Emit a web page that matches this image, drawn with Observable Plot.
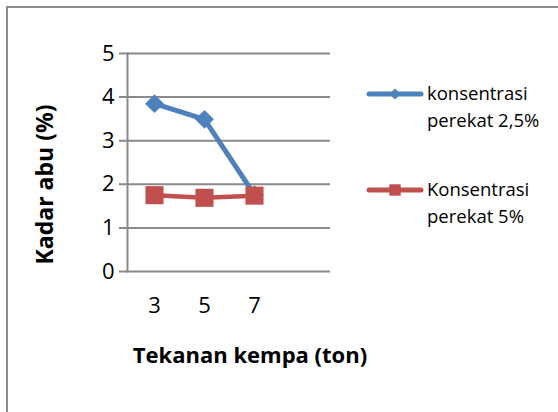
<!DOCTYPE html>
<html>
<head>
<meta charset="utf-8">
<script src="https://cdn.jsdelivr.net/npm/d3@7"></script>
<script src="https://cdn.jsdelivr.net/npm/@observablehq/plot@0.6"></script>
<style>
  html, body { margin: 0; padding: 0; background: #fff; }
  #wrap { position: relative; width: 558px; height: 412px; overflow: hidden; }
  #border { position: absolute; left: 6px; top: 6px; width: 700px; height: 600px; border: 2px solid #8e8e8e; box-sizing: border-box; }
  #chart { position: absolute; left: 0; top: 0; }
</style>
</head>
<body>
<div id="wrap"><div id="border"></div><div id="chart"></div></div>
<script>
const categories = ["3", "5", "7", ""];
const seriesNames = ["konsentrasi\nperekat 2,5%", "Konsentrasi\nperekat 5%"];
const series1 = [3.85, 3.49, 1.76];
const series2 = [1.75, 1.69, 1.74];
const yTicks = [0, 1, 2, 3, 4, 5];
const colors = ["#4F81BD", "#C0504D"];
const symbols = ["diamond2", "square"];
const xTitle = "Tekanan kempa (ton)";
const yTitle = "Kadar abu (%)";

const rows = (vals, s) => vals.map((v, i) => ({series: seriesNames[s], x: categories[i], y: v}));
const data1 = rows(series1, 0);
const data2 = rows(series2, 1);

const font = "'Open Sans', sans-serif";
const grid = "#8a8a8a";

const plot = Plot.plot({
  width: 558,
  height: 412,
  marginLeft: 127,
  marginRight: 228,
  marginTop: 53,
  marginBottom: 141,
  style: {fontFamily: font, color: "#000", background: "transparent", overflow: "visible"},
  x: {type: "band", domain: categories, padding: 0, label: null},
  y: {domain: [0, 5], label: null},
  marks: [
    Plot.ruleY(yTicks, {stroke: grid, strokeWidth: 2, insetLeft: -8}),
    Plot.frame({anchor: "left", stroke: grid, strokeWidth: 2}),
    Plot.axisY({ticks: yTicks, tickSize: 0, tickPadding: 13, fontSize: 22, tickFormat: d => String(d)}),
    Plot.axisX({tickSize: 0, tickPadding: 26, fontSize: 22, tickFormat: d => d}),
    Plot.line(data1, {x: "x", y: "y", stroke: colors[0], strokeWidth: 5}),
    Plot.dot(data1, {x: "x", y: "y", symbol: symbols[0], fill: colors[0], stroke: null, r: 8.5}),
    Plot.line(data2, {x: "x", y: "y", stroke: colors[1], strokeWidth: 4.5}),
    Plot.dot(data2, {x: "x", y: "y", symbol: symbols[1], fill: colors[1], stroke: null, r: 10.2}),
    Plot.text([xTitle], {frameAnchor: "bottom", dx: 21, dy: 84, fontSize: 22, fontWeight: "bold", lineAnchor: "middle"}),
    Plot.text([yTitle], {frameAnchor: "left", rotate: -90, textAnchor: "middle", dx: -82, dy: 22, fontSize: 23, fontWeight: "bold"})
  ]
});
document.getElementById("chart").appendChild(plot);

// Legend
const svg = d3.select(plot);
const leg = svg.append("g").attr("font-family", font).attr("font-size", 18.5).attr("text-anchor", "start");
const legY = [94, 190];
seriesNames.forEach((name, i) => {
  const g = leg.append("g").attr("transform", `translate(0,${legY[i]})`);
  g.append("line").attr("x1", 369).attr("x2", 421).attr("y1", 0).attr("y2", 0)
    .attr("stroke", colors[i]).attr("stroke-width", 5).attr("stroke-linecap", "round");
  const sym = d3.symbol().type(i === 0 ? d3.symbolDiamond2 : d3.symbolSquare).size(i === 0 ? 80 : 130);
  g.append("path").attr("d", sym()).attr("transform", "translate(395,0)").attr("fill", colors[i]);
  const t = g.append("text").attr("x", 427).attr("y", 0).attr("fill", "#000").attr("text-anchor", "start");
  name.split("\n").forEach((line, k) => {
    t.append("tspan").attr("x", 427).attr("dy", k === 0 ? "0.35em" : 27).text(line);
  });
});
</script>
</body>
</html>
